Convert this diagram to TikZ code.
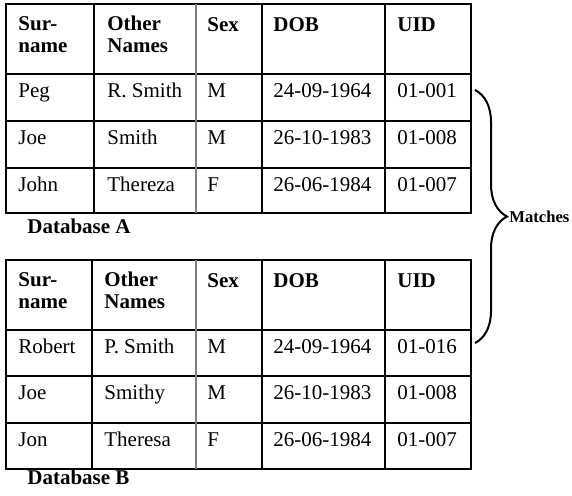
\documentclass[tikz,border=0pt]{standalone}
\usepackage{fontspec}
\setmainfont{Liberation Serif}
\usetikzlibrary{decorations.pathreplacing}
\tikzset{
  cell/.style = {anchor=base west, inner sep=0pt, font=\fontsize{10.5}{11}\selectfont},
  head/.style = {cell, font=\fontsize{10.5}{11}\selectfont\bfseries, align=left},
  rule/.style = {line width=1pt},
  sep/.style = {line width=0.6pt}
}
\begin{document}
\begin{tikzpicture}[x=0.5pt, y=-0.5pt]
    \useasboundingbox (0,0) rectangle (572,495);
    % Database A
    \draw[rule] (6,4) rectangle (471,213);
    \draw[rule] (6,74) -- (471,74) (6,121) -- (471,121) (6,168) -- (471,168);
    \draw[rule] (262,4) -- (262,213);
    \draw[sep] (94,4) -- (94,213) (385,4) -- (385,213);
    \draw[sep, gray] (196,4) -- (196,213);
    \node[head] (a0s) at (18,52) {Sur-\\name};
    \node[head] (a0o) at (107,52) {Other\\Names};
    \node[head] (a0x) at (207,31) {Sex};
    \node[head] (a0d) at (273,31) {DOB};
    \node[head] (a0u) at (397,31) {UID};
    \foreach \r/\y/\s/\o/\x/\d/\u in {1/97/Peg/R. Smith/M/24-09-1964/01-001,
        2/144/Joe/Smith/M/26-10-1983/01-008, 3/191/John/Thereza/F/26-06-1984/01-007}
    {
        \node[cell] (a\r s) at (18,\y) {\s};
        \node[cell] (a\r o) at (107,\y) {\o};
        \node[cell] (a\r x) at (207,\y) {\x};
        \node[cell] (a\r d) at (273,\y) {\d};
        \node[cell] (a\r u) at (397,\y) {\u};
    }
    \node[head] (dba) at (27,233) {Database A};
    % Database B
    \draw[rule] (6,260) rectangle (471,469);
    \draw[rule] (6,330) -- (471,330) (6,376) -- (471,376) (6,423) -- (471,423);
    \draw[rule] (92,260) -- (92,469) (262,260) -- (262,469);
    \draw[sep] (385,260) -- (385,469);
    \draw[sep, gray] (196,260) -- (196,469);
    \node[head] (b0s) at (18,308) {Sur-\\name};
    \node[head] (b0o) at (104,308) {Other\\Names};
    \node[head] (b0x) at (207,287) {Sex};
    \node[head] (b0d) at (273,287) {DOB};
    \node[head] (b0u) at (397,287) {UID};
    \foreach \r/\y/\s/\o/\x/\d/\u in {1/353/Robert/P. Smith/M/24-09-1964/01-016,
        2/399/Joe/Smithy/M/26-10-1983/01-008, 3/446/Jon/Theresa/F/26-06-1984/01-007}
    {
        \node[cell] (b\r s) at (18,\y) {\s};
        \node[cell] (b\r o) at (104,\y) {\o};
        \node[cell] (b\r x) at (207,\y) {\x};
        \node[cell] (b\r d) at (273,\y) {\d};
        \node[cell] (b\r u) at (397,\y) {\u};
    }
    \node[head] (dbb) at (27,484) {Database B};
    % matching rows
    \coordinate (top) at (475,90);
    \coordinate (bot) at (475,343);
    \draw[line width=1pt, decorate, decoration={brace, amplitude=16pt}] (top) -- (bot);
    \node[anchor=west, inner sep=0pt, font=\fontsize{8.3}{9}\selectfont\bfseries] (match) at (509,216.5) {Matches};
\end{tikzpicture}
\end{document}
